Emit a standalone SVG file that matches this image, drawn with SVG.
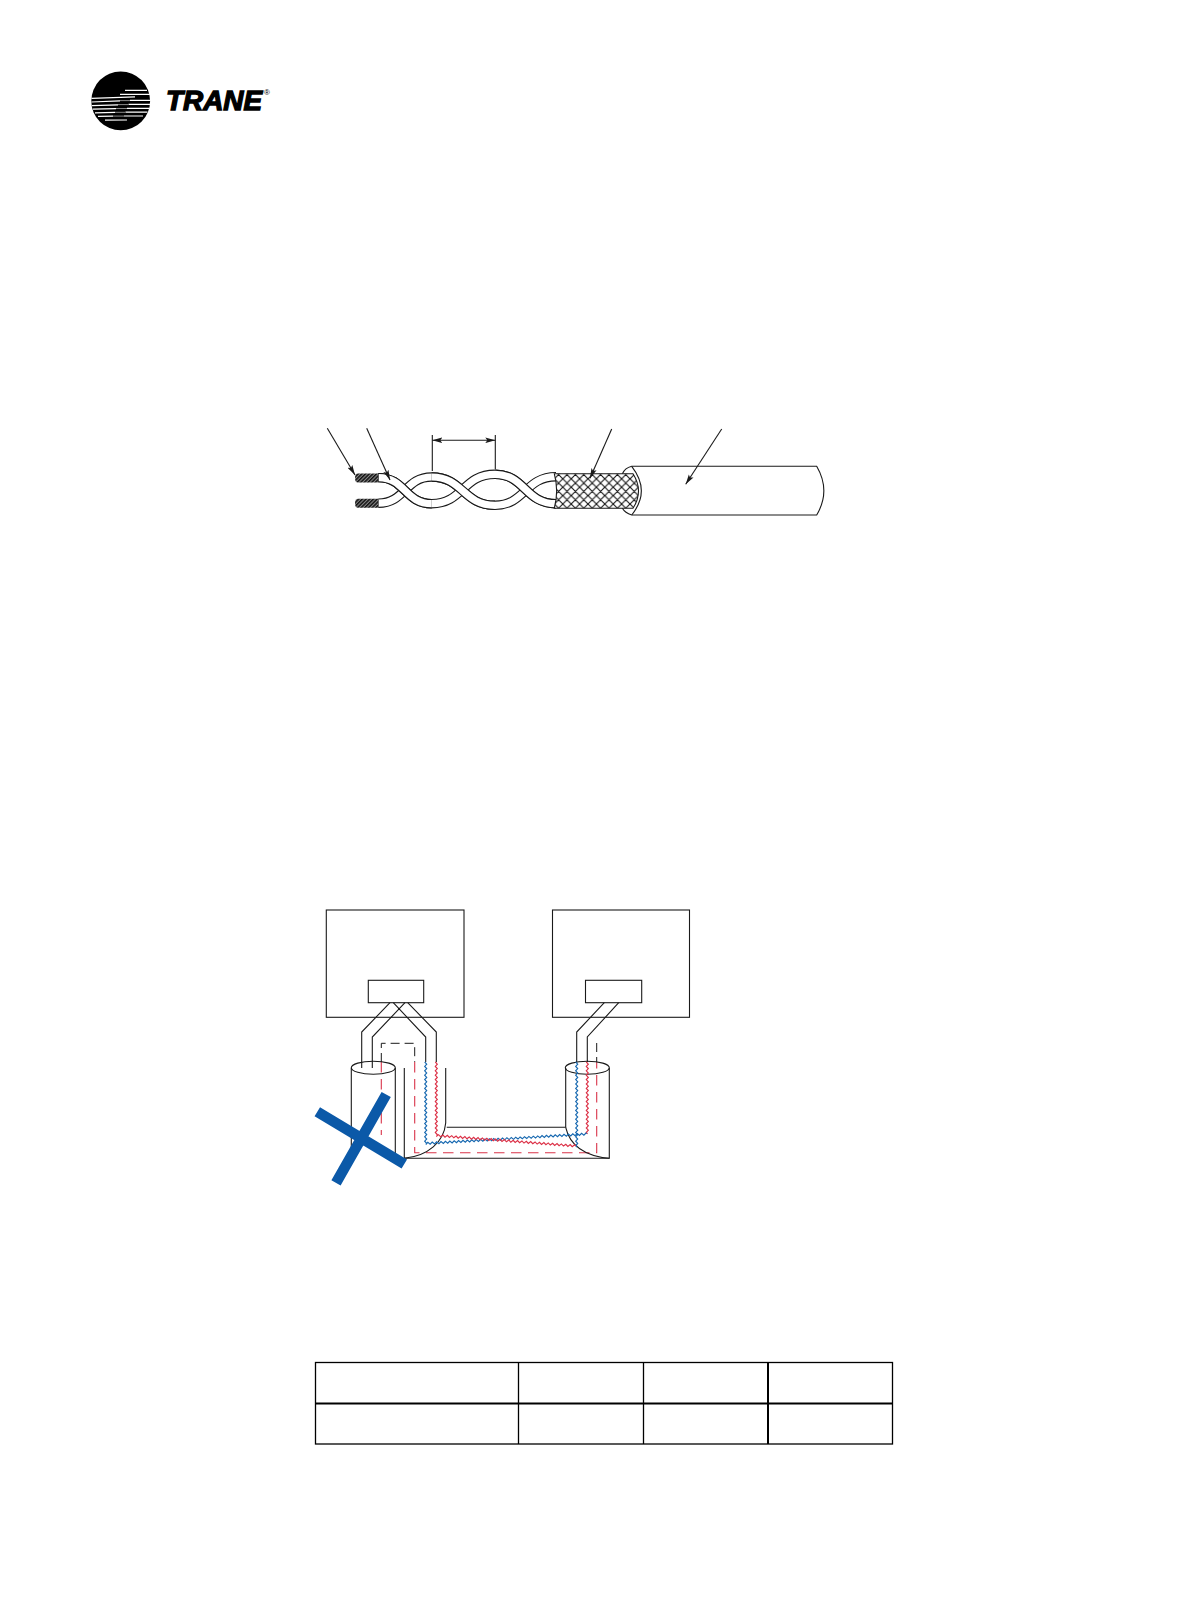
<svg xmlns="http://www.w3.org/2000/svg" width="1191" height="1616" viewBox="0 0 1191 1616">
<style>
.l{fill:none;stroke:#1a1a1a;stroke-width:1.1}
.w{fill:#fff;stroke:#1a1a1a;stroke-width:1.1}
.dk{fill:none;stroke:#1a1a1a;stroke-width:1;stroke-dasharray:9 5}
.dr{fill:none;stroke:#d9344a;stroke-width:1.1;stroke-dasharray:10.5 6.5}
.ro{fill:none;stroke:#1a1a1a;stroke-width:9.4}
.ri{fill:none;stroke:#fff;stroke-width:7.2}
.t{fill:none;stroke:#000;stroke-width:1.3}
.s{stroke:#fff;stroke-width:1.2;fill:none}
.zb{fill:none;stroke:#1668b0;stroke-width:1.15}
.zr{fill:none;stroke:#dc2f45;stroke-width:1.15}
</style>
<defs>
<marker id="ah" markerUnits="userSpaceOnUse" markerWidth="11" markerHeight="6" refX="10" refY="3" orient="auto-start-reverse"><path d="M0 0.2L10 3L0 5.8L2 3z" fill="#1a1a1a"/></marker>
<pattern id="mesh" patternUnits="userSpaceOnUse" width="8.4" height="8.4"><path d="M0 0L8.4 8.4M8.4 0L0 8.4M-1 7.4L1 9.4M7.4 -1L9.4 1" stroke="#111" stroke-width="1.1" fill="none"/></pattern>
<pattern id="hatch" patternUnits="userSpaceOnUse" width="2.6" height="2.6" patternTransform="rotate(45)"><rect width="2.6" height="2.6" fill="#8a8a8a"/><rect width="1.5" height="2.6" fill="#111"/></pattern>
<path id="z" d="M-1 0l2 2.2l-2 2.2l2 2.2l-2 2.2l2 2.2l-2 2.2l2 2.2l-2 2.2l2 2.2l-2 2.2l2 2.2l-2 2.2l2 2.2l-2 2.2l2 2.2l-2 2.2l2 2.2l-2 2.2l2 2.2l-2 2.2l2 2.2l-2 2.2l2 2.2l-2 2.2l2 2.2l-2 2.2l2 2.2l-2 2.2l2 2.2l-2 2.2l2 2.2l-2 2.2l2 2.2l-2 2.2l2 2.2l-2 2.2l2 2.2l-2 2.2l2 2.2l-2 2.2l2 2.2l-2 2.2l2 2.2l-2 2.2l2 2.2l-2 2.2l2 2.2l-2 2.2l2 2.2l-2 2.2l2 2.2l-2 2.2l2 2.2l-2 2.2l2 2.2l-2 2.2l2 2.2l-2 2.2l2 2.2l-2 2.2l2 2.2l-2 2.2l2 2.2l-2 2.2l2 2.2l-2 2.2l2 2.2l-2 2.2l2 2.2l-2 2.2l2 2.2l-2 2.2l2 2.2l-2 2.2l2 2.2l-2 2.2l2 2.2l-2 2.2l2 2.2l-2 2.2"/>
</defs>

<g id="logo">
<circle cx="120.7" cy="100.9" r="29.4" fill="#000"/>
<path class="s" d="M125 90.4H147M120 94.3H150M91.5 98.4L135 96.8M91.5 102L120 100.8M92 105.6L118 104.8M93 109.2L116 108.6M95 112.8L115 112.4M98 116.4L113 116.2M105 120.2L127 120M130 100.4H150.5M128.5 104.4H150.5M127 108.4H149.5M125.5 112.2H147.5M124 116H143"/>
<path d="M120 100.6H130M118 104.6H128.5M116 108.5H127M115 112.3H125.5M113 116.1H124" stroke="#8a8a8a" stroke-width="1" fill="none"/>
<text x="166" y="110" font-family="'Liberation Sans',Arial,sans-serif" font-size="27" font-weight="700" font-style="italic" stroke="#000" stroke-width="1.3" textLength="96" lengthAdjust="spacingAndGlyphs">TRANE</text>
<text x="264" y="94.5" font-family="'Liberation Sans',Arial,sans-serif" font-size="8" fill="#000">®</text>
</g>

<g id="twisted-cable">
<path d="M358 473.6H378.3V482.6H358Q355 482.6 355 478Q355 473.6 358 473.6z" fill="url(#hatch)"/>
<path d="M358 498.8H378.3V507.8H358Q355 507.8 355 503.2Q355 498.8 358 498.8z" fill="url(#hatch)"/>
<path class="ro" d="M378.3 503.2C405 503.2 405 477 431.7 477C463 477 463 505.3 495 505.3C525 505.3 525 476.7 556 476.7"/>
<path class="ri" d="M378.8 503.2C405 503.2 405 477 431.7 477C463 477 463 505.3 495 505.3C525 505.3 525 476.7 556 476.7"/>
<path class="ro" d="M378.3 477.6C405 477.6 405 503.7 431.7 503.7C463 503.7 463 474.3 495 474.3C525 474.3 525 503.7 556 503.7"/>
<path class="ri" d="M378.8 477.6C405 477.6 405 503.7 431.7 503.7C463 503.7 463 474.3 495 474.3C525 474.3 525 503.7 556 503.7"/>
<path class="ro" d="M378.3 477.6C405 477.6 405 503.7 431.7 503.7"/>
<path class="ri" d="M378.8 477.6C405 477.6 405 503.7 431.7 503.7"/>
<path class="ro" d="M431.7 477C463 477 463 505.3 495 505.3"/>
<path class="ri" d="M431.7 477C463 477 463 505.3 495 505.3"/>
<path class="ro" d="M495 474.3C525 474.3 525 503.7 556 503.7"/>
<path class="ri" d="M495 474.3C525 474.3 525 503.7 556 503.7"/>
<path class="w" d="M631.7 466.3H816.7Q831 491 816.7 515H631.7Q625 513 622.4 508.3V473.7Q625 468 631.7 466.3z"/>
<path class="l" d="M631.7 466.3Q651 491 631.7 515"/>
<path d="M554.3 473.7H633Q644 491 633 508.3H554.3Q559 491 554.3 473.7z" fill="#fff"/>
<path d="M554.3 473.7H633Q644 491 633 508.3H554.3Q559 491 554.3 473.7z" fill="url(#mesh)" stroke="#1a1a1a" stroke-width="1.1"/>
<path class="l" d="M327.3 428.3L355 475" marker-end="url(#ah)"/>
<path class="l" d="M366.7 428.3L390 480" marker-end="url(#ah)"/>
<path class="l" d="M611.7 429L590 478.3" marker-end="url(#ah)"/>
<path class="l" d="M721.7 429L685.7 484.3" marker-end="url(#ah)"/>
<path class="l" d="M432.3 435V471M495.3 435V469"/>
<path class="l" d="M432.3 440.3H495.3" marker-start="url(#ah)" marker-end="url(#ah)"/>
</g>

<g id="device-left">
<rect class="l" x="326.3" y="910" width="137.7" height="107.3"/>
<rect class="l" x="368.3" y="980.3" width="55.4" height="22.4"/>
</g>
<g id="device-right">
<rect class="l" x="552.5" y="910" width="137" height="107.3"/>
<rect class="l" x="585.5" y="980.3" width="56.2" height="22.4"/>
</g>

<g id="connectors">
<path class="l" d="M390 1002.7L361.7 1032V1068M405 1002.7L372.3 1037V1068M393.3 1002.7L425.7 1037V1062M407.7 1002.7L436.3 1032V1062"/>
<path class="l" d="M604.3 1002.7L576.7 1032V1062M618.7 1002.7L587.3 1037V1062"/>
<path class="dk" d="M381.3 1062V1043.3H414.7V1062"/>
<path class="dk" d="M596.7 1043V1062"/>
<path class="dr" d="M381.3 1062V1135"/>
<path class="dr" d="M414.7 1062V1152.7H596.7V1062"/>
<ellipse class="l" cx="373.3" cy="1067.7" rx="22" ry="6.5"/>
<ellipse class="l" cx="587.3" cy="1067.7" rx="22" ry="6.5"/>
<path class="l" d="M351.3 1068V1150M395.3 1068V1154"/>
<path class="l" d="M404.3 1068V1158.3H609.3V1068"/>
<path class="l" d="M445.7 1068V1123C444 1142 428 1156 404.3 1158.3"/>
<path class="l" d="M446.7 1127.3H565.7V1068"/>
<path class="l" d="M565.7 1127.3C570 1146 586 1156 609.3 1158.3"/>
<use href="#z" class="zb" stroke-dasharray="110 9999" transform="translate(425.7 1062)"/>
<use href="#z" class="zr" stroke-dasharray="99 9999" transform="translate(436.3 1062)"/>
<use href="#z" class="zb" stroke-dasharray="115 9999" transform="translate(576.7 1062)"/>
<use href="#z" class="zr" stroke-dasharray="97 9999" transform="translate(587.3 1062)"/>
<use href="#z" class="zb" stroke-dasharray="218 9999" transform="translate(425.7 1143.5) rotate(-93.37)"/>
<use href="#z" class="zr" stroke-dasharray="189 9999" transform="translate(436.3 1135.5) rotate(-85.7)"/>
</g>

<g id="cross-mark">
<path d="M317.3 1111.7L404.3 1164M386.2 1094.5L336 1182.8" fill="none" stroke="#0b59a8" stroke-width="10.6"/>
</g>

<g id="table">
<rect class="t" x="315.5" y="1362.5" width="577" height="81.5"/>
<path class="t" d="M518.5 1362.5V1444M643.5 1362.5V1444"/>
<path d="M768 1362.5V1444M315.5 1403.5H892.5" fill="none" stroke="#000" stroke-width="2"/>
</g>
</svg>
